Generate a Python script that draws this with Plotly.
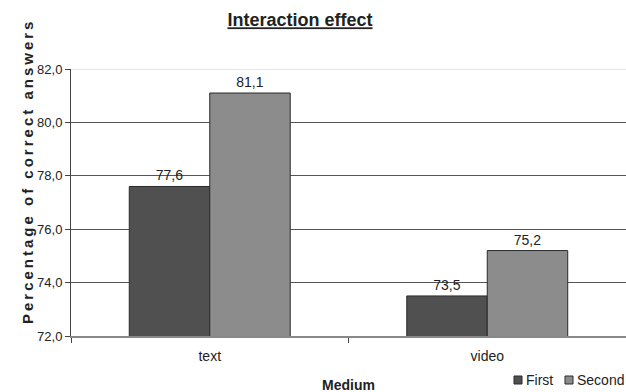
import plotly.graph_objects as go

categories = ["text", "video"]
first_vals = [77.6, 73.5]
second_vals = [81.1, 75.2]
series_names = ["First", "Second"]
colors = ["#505050", "#8c8c8c"]

fig = go.Figure()
for name, vals, col in zip(series_names, [first_vals, second_vals], colors):
    fig.add_trace(go.Bar(x=categories, y=vals, name=name,
                         marker=dict(color=col, line=dict(color="#2a2a2a", width=1)),
                         texttemplate="%{y:.1f}", textposition="outside", cliponaxis=False,
                         textfont=dict(size=14, color="#222")))

W, H = 626, 392
T, B, L, R = 69, 56, 71, 0
ph = H - T - B
pw = W - L - R

def py(pix):
    return (H - B - pix) / ph

def px(pix):
    return (pix - L) / pw

shapes = [dict(type="line", xref="paper", yref="y", x0=0, x1=1, y0=82, y1=82,
               line=dict(color="#cccccc", width=1), layer="above")]
annotations = [
    dict(text="<b><span style='letter-spacing:3px'>Percentage of correct answers</span></b>",
         xref="paper", yref="paper", x=px(27), y=py(172),
         xanchor="center", yanchor="middle", textangle=-90, showarrow=False,
         font=dict(size=15, color="#222")),
    dict(text="<b>Medium</b>", xref="paper", yref="paper", x=px(348),
         y=py(385), xanchor="center", yanchor="middle", showarrow=False,
         font=dict(size=14, color="#222")),
]
# manual legend (square swatches + labels)
for name, col, sx in zip(series_names, colors, [514, 565]):
    shapes.append(dict(type="rect", xref="paper", yref="paper",
                       x0=px(sx), x1=px(sx + 8), y0=py(384), y1=py(376),
                       fillcolor=col, line=dict(color="#2a2a2a", width=1), layer="above"))
    annotations.append(dict(text=name, xref="paper", yref="paper", x=px(sx + 10), y=py(380),
                            xanchor="left", yanchor="middle", showarrow=False,
                            font=dict(size=14, color="#222")))

fig.update_layout(
    width=W, height=H,
    margin=dict(l=L, r=R, t=T, b=B),
    paper_bgcolor="white", plot_bgcolor="white",
    font=dict(family="Liberation Sans, Arial, sans-serif", size=12, color="#222"),
    separators=",.",
    barmode="group", bargap=0.42, bargroupgap=0,
    title=dict(text="<u><b>Interaction effect</b></u>", x=300 / W, xanchor="center",
               y=1 - 20 / H, yanchor="middle", font=dict(size=18, color="#222")),
    showlegend=False,
    xaxis=dict(showline=True, linecolor="#888", linewidth=2, automargin=False,
               ticks="outside", tickson="boundaries", ticklen=5, tickcolor="#444",
               ticklabelstandoff=6, tickfont=dict(size=14)),
    yaxis=dict(range=[72, 82], dtick=2, tickformat=".1f", automargin=False,
               showline=True, linecolor="#444", linewidth=1,
               ticks="outside", ticklen=5, tickcolor="#444",
               showgrid=True, gridcolor="#555", gridwidth=1, zeroline=False,
               tickfont=dict(size=13)),
    shapes=shapes,
    annotations=annotations,
)

fig.write_html("out.html", config={"displayModeBar": False},
               post_script="document.body.style.margin='0';document.body.style.overflow='hidden';")
